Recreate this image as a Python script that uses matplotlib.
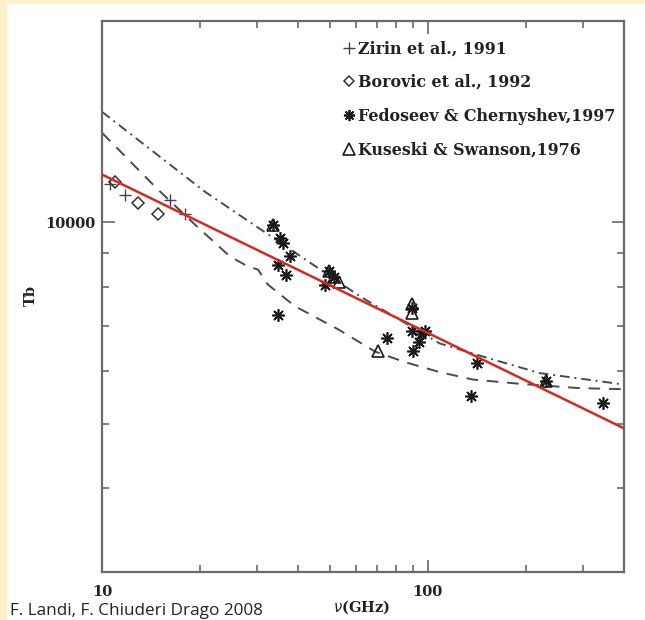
import matplotlib
matplotlib.use("Agg")
import matplotlib.pyplot as plt
from matplotlib.lines import Line2D
from matplotlib.patches import Rectangle
from matplotlib.ticker import FixedLocator, NullFormatter, FixedFormatter

# ---------------- data ----------------
zirin_freq = [10.6, 11.8, 16.2, 18.0]
zirin_tb = [11400, 11000, 10800, 10300]

borovik_freq = [11.0, 12.9, 14.9]
borovik_tb = [11500, 10700, 10300]

fedoseev_freq = [33.5, 35.2, 35.9, 37.7, 34.6, 36.6, 34.7, 48.3, 49.7, 51.5,
                 74.8, 89.3, 95.2, 93.9, 89.9, 97.9, 89.3, 142.0, 136.0, 230.0, 344.0]
fedoseev_tb = [9920, 9470, 9300, 8890, 8640, 8350, 7280, 8070, 8470, 8270,
               6710, 6870, 6800, 6620, 6410, 6870, 7450, 6160, 5490, 5790, 5370]

kuseski_freq = [33.5, 49.7, 51.5, 53.3, 89.3, 89.3, 70.2, 230.0]
kuseski_tb = [9920, 8470, 8270, 8130, 7560, 7330, 6410, 5790]

dashdot_freq = [10, 20.7, 30.5, 61.9, 108.8, 147.5, 220.6, 400]
dashdot_tb = [14630, 11110, 9780, 7750, 6590, 6300, 5950, 5720]

dashed_freq = [10, 14.75, 19.3, 24.7, 28.05, 30.1, 32.3, 39.1, 53.0, 68.8,
               85.0, 108.8, 137.4, 195.6, 292.6, 400]
dashed_tb = [13610, 11230, 9920, 8890, 8590, 8500, 8070, 7490, 6920, 6410,
             6180, 5970, 5820, 5730, 5650, 5630]

fit_freq = [10, 400]
fit_tb = [11790, 4920]

x_major = [10, 100]
x_major_labels = ["10", "100"]
x_minor = [20, 30, 40, 50, 60, 70, 80, 90, 200, 300]
y_major = [10000]
y_major_labels = ["10000"]
y_minor = [4000, 5000, 6000, 7000, 8000, 9000]

legend_labels = ["Zirin et al., 1991", "Borovic et al., 1992",
                 "Fedoseev & Chernyshev,1997", "Kuseski & Swanson,1976"]
caption = "F. Landi, F. Chiuderi Drago 2008"

# ---------------- figure ----------------
W, H = 645, 620
fig = plt.figure(figsize=(W / 100, H / 100), dpi=100)
fig.patch.set_facecolor("#FEF1C9")
fig.patches.append(Rectangle((7 / W, 0), 1 - 7 / W, 1 - 4 / H, transform=fig.transFigure,
                             facecolor="white", edgecolor="none", zorder=-10))

ax = fig.add_axes([102 / W, 1 - 572 / H, (624 - 102) / W, (572 - 21) / H])
ax.set_zorder(1)
ax.patch.set_alpha(0)
ax.set_xscale("log")
ax.set_yscale("log")
ax.set_xlim(10, 400)
ax.set_ylim(3000, 20000)

serif = "DejaVu Serif"
frame_col = "#6a6a6a"
for s in ax.spines.values():
    s.set_color(frame_col)
    s.set_linewidth(1.6)

ax.xaxis.set_major_locator(FixedLocator(x_major))
ax.xaxis.set_major_formatter(FixedFormatter(x_major_labels))
ax.xaxis.set_minor_locator(FixedLocator(x_minor))
ax.xaxis.set_minor_formatter(NullFormatter())
ax.yaxis.set_major_locator(FixedLocator(y_major))
ax.yaxis.set_major_formatter(FixedFormatter(y_major_labels))
ax.yaxis.set_minor_locator(FixedLocator(y_minor))
ax.yaxis.set_minor_formatter(NullFormatter())
ax.tick_params(which="both", direction="in", top=True, right=True, color=frame_col, width=1.2)
ax.tick_params(which="major", length=9)
ax.tick_params(which="minor", length=5)
ax.tick_params(axis="x", which="major", pad=9)
ax.tick_params(axis="y", which="major", pad=5)
for lab in ax.get_xticklabels() + ax.get_yticklabels():
    lab.set_fontfamily(serif)
    lab.set_fontweight("bold")
    lab.set_fontsize(10.5)
    lab.set_color("#222222")

ax.set_xlabel(r"$\nu$(GHz)", fontfamily=serif, fontweight="bold", fontsize=10.5,
              color="#222222")
ax.xaxis.set_label_coords((362 - 102) / 522, (572 - 598) / 551)
ax.set_ylabel("Tb", fontfamily=serif, fontweight="bold", fontsize=10.5,
              color="#222222")
ax.yaxis.set_label_coords((38 - 102) / 522, (572 - 295) / 551)

# model curves
ax.plot(dashdot_freq, dashdot_tb, color="#4a4a4a", lw=1.4, dashes=(5, 2.5, 1, 2.5), zorder=2)
ax.plot(dashed_freq, dashed_tb, color="#4a4a4a", lw=1.4, dashes=(6, 4.5), zorder=2)

# data points
mk_col = "#1a1a1a"
ax.plot(zirin_freq, zirin_tb, ls="none", marker="+", ms=8, mew=1.0, color="#444444", zorder=3)
ax.plot(borovik_freq, borovik_tb, ls="none", marker="D", ms=6, mew=1.1,
        mfc="none", mec="#333333", zorder=3)
ax.plot(fedoseev_freq, fedoseev_tb, ls="none", marker=(8, 2, 0), ms=9, mew=1.2,
        color=mk_col, zorder=3)
ax.plot(kuseski_freq, kuseski_tb, ls="none", marker="^", ms=9, mew=1.2,
        mfc="none", mec=mk_col, zorder=3)

# fit line
ax.plot(fit_freq, fit_tb, color="#D42A22", lw=1.8, zorder=4)

# legend
handles = [
    Line2D([], [], ls="none", marker="+", ms=8, mew=1.0, color="#444444"),
    Line2D([], [], ls="none", marker="D", ms=5.5, mew=1.1, mfc="none", mec="#333333"),
    Line2D([], [], ls="none", marker=(8, 2, 0), ms=8, mew=1.3, color=mk_col),
    Line2D([], [], ls="none", marker="^", ms=8, mew=1.2, mfc="none", mec=mk_col),
]
leg = ax.legend(handles, legend_labels, loc="upper left", bbox_to_anchor=(0.442, 0.985),
                frameon=False, handlelength=0.7, handletextpad=0.2, labelspacing=1.05,
                borderpad=0.2, prop={"family": serif, "weight": "bold", "size": 11.4})
for t in leg.get_texts():
    t.set_color("#222222")

fig.text(10 / W, 1 - 619 / H, caption, fontfamily="Open Sans", fontsize=12.3,
         color="#222222", va="bottom", ha="left")

fig.savefig("out.png", dpi=100, facecolor=fig.get_facecolor())
